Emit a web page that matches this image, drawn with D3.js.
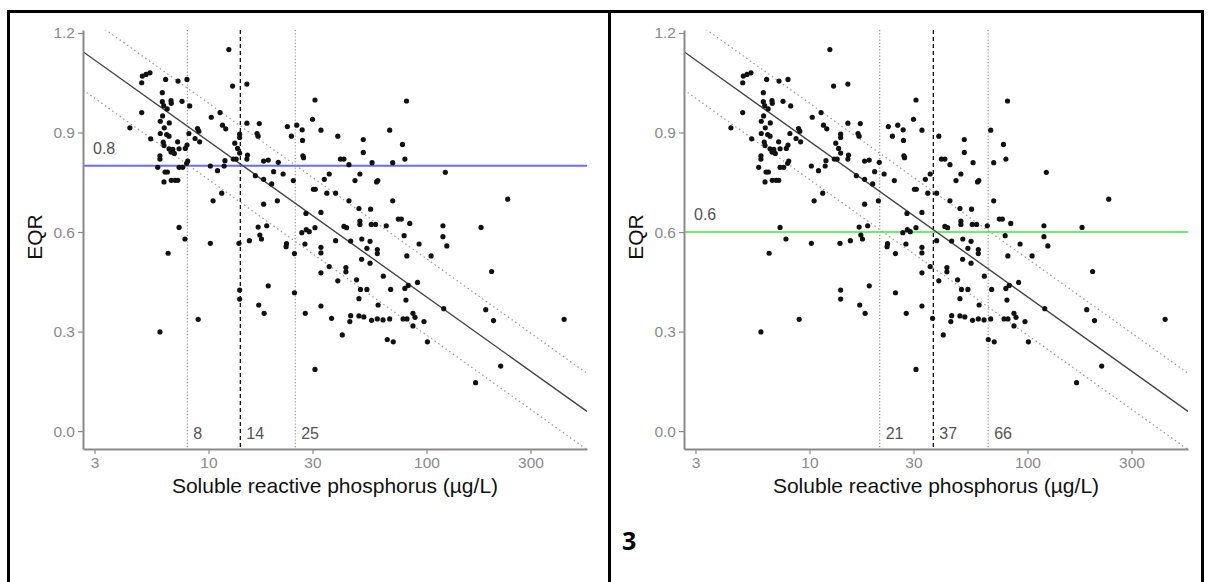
<!DOCTYPE html>
<html>
<head>
<meta charset="utf-8">
<script src="https://cdn.jsdelivr.net/npm/d3@7"></script>
<style>
    body { margin: 0; background: #fff; }
    svg { display: block; font-family: Arial, "Liberation Sans", sans-serif; }
</style>
</head>
<body>
<svg id="chart" width="1209" height="582"></svg>
<script>
// ── Data: soluble reactive phosphorus (µg/L) vs EQR, same sites in both panels ──
const srp = [
    12.4, 5.39, 5.17, 4.97, 4.94, 6.36, 7.25, 7.97, 12.9, 15.0,
    6.14, 6.73, 6.75, 7.56, 6.14, 6.23, 8.2, 6.46, 4.94, 10.3,
    11.3, 6.16, 6.01, 6.61, 11.6, 12.0, 15.0, 17.1, 4.36, 6.27,
    6.01, 6.43, 6.59, 8.91, 9.03, 8.13, 13.9, 13.9, 5.43, 8.68,
    9.11, 6.2, 7.22, 6.25, 7.97, 13.2, 6.59, 6.86, 7.33, 7.83,
    6.73, 6.97, 13.6, 15.1, 5.99, 5.99, 8.03, 11.9, 13.0, 13.4,
    15.0, 5.85, 7.33, 7.62, 10.2, 11.8, 11.0, 16.4, 6.32, 6.48,
    6.25, 6.75, 7.03, 7.23, 7.94, 13.9, 6.53, 7.33, 7.80, 10.2,
    10.5, 11.5, 5.99, 8.97, 13.9, 13.9, 13.8, 15.4, 16.7, 16.9,
    17.9, 18.8, 20.9, 17.9, 19.5, 22.0, 24.5, 20.7, 17.9, 23.0,
    25.4, 24.0, 26.9, 27.0, 27.1, 27.3, 16.9, 18.5, 17.2, 17.5,
    22.8, 22.7, 24.8, 27.7, 26.8, 28.1, 29.0, 28.0, 18.8, 24.8,
    17.0, 18.0, 27.8, 30.8, 81.0, 30.0, 32.8, 39.2, 51.3, 67.8,
    77.6, 51.3, 40.3, 41.8, 44.1, 56.3, 70.0, 79.6, 122, 19.9,
    35.8, 34.0, 49.5, 47.0, 59.0, 59.8, 30.3, 30.9, 34.9, 38.3,
    44.1, 70.0, 49.0, 55.4, 32.8, 74.3, 76.7, 83.8, 49.5, 49.5,
    55.8, 58.4, 65.4, 41.8, 43.0, 30.8, 119, 178, 79.0, 119,
    124, 44.9, 50.5, 55.1, 38.3, 59.5, 59.5, 53.3, 32.8, 32.8,
    92.5, 81.3, 105, 50.4, 55.1, 35.8, 42.7, 42.7, 32.8, 39.2,
    47.8, 63.4, 82.5, 91.0, 49.8, 53.3, 68.5, 79.6, 199, 236,
    80.5, 120, 187, 86.7, 88.6, 86.7, 78.1, 81.4, 67.8, 63.2,
    59.5, 56.0, 49.0, 51.6, 44.9, 44.5, 36.7, 32.8, 49.0, 60.0,
    41.1, 66.1, 70.4, 97.4, 101, 203, 428, 219, 168, 30.8
];
const eqr = [
    1.15, 1.08, 1.075, 1.07, 1.05, 1.06, 1.055, 1.06, 1.04, 1.046,
    1.02, 0.996, 0.988, 0.994, 0.993, 0.981, 0.98, 0.971, 0.96, 0.946,
    0.96, 0.95, 0.934, 0.929, 0.922, 0.911, 0.928, 0.927, 0.914, 0.914,
    0.897, 0.894, 0.889, 0.912, 0.904, 0.897, 0.895, 0.885, 0.881, 0.882,
    0.872, 0.871, 0.872, 0.861, 0.862, 0.868, 0.851, 0.849, 0.851, 0.852,
    0.841, 0.837, 0.852, 0.832, 0.830, 0.820, 0.814, 0.815, 0.820, 0.820,
    0.820, 0.795, 0.795, 0.795, 0.799, 0.799, 0.785, 0.770, 0.781, 0.781,
    0.751, 0.756, 0.756, 0.756, 0.807, 0.838, 0.536, 0.614, 0.579, 0.566,
    0.694, 0.717, 0.299, 0.337, 0.425, 0.398, 0.566, 0.574, 0.897, 0.889,
    0.814, 0.817, 0.810, 0.759, 0.745, 0.775, 0.755, 0.694, 0.684, 0.918,
    0.922, 0.889, 0.908, 0.876, 0.830, 0.824, 0.615, 0.619, 0.591, 0.579,
    0.565, 0.556, 0.535, 0.564, 0.598, 0.607, 0.601, 0.656, 0.438, 0.417,
    0.380, 0.355, 0.355, 0.998, 0.995, 0.940, 0.907, 0.889, 0.879, 0.907,
    0.864, 0.840, 0.820, 0.820, 0.803, 0.809, 0.809, 0.820, 0.780, 0.782,
    0.775, 0.759, 0.775, 0.755, 0.751, 0.755, 0.729, 0.729, 0.717, 0.717,
    0.694, 0.694, 0.671, 0.669, 0.659, 0.639, 0.639, 0.626, 0.633, 0.623,
    0.623, 0.623, 0.619, 0.617, 0.613, 0.613, 0.619, 0.614, 0.589, 0.586,
    0.558, 0.573, 0.579, 0.572, 0.574, 0.547, 0.535, 0.551, 0.554, 0.537,
    0.564, 0.528, 0.528, 0.518, 0.506, 0.496, 0.493, 0.480, 0.477, 0.453,
    0.456, 0.467, 0.439, 0.448, 0.427, 0.427, 0.427, 0.430, 0.481, 0.699,
    0.395, 0.369, 0.366, 0.355, 0.343, 0.317, 0.338, 0.338, 0.338, 0.335,
    0.338, 0.334, 0.347, 0.344, 0.348, 0.330, 0.340, 0.377, 0.399, 0.380,
    0.290, 0.276, 0.269, 0.330, 0.269, 0.333, 0.337, 0.196, 0.146, 0.186
];

// ── Panel settings: one entry per panel ──
const boundaries = [0.8, 0.6];
const boundaryLabels = ["0.8", "0.6"];
const boundaryColors = ["#6a6aff", "#6cf06c"];
const lowerCuts = [8, 21];
const midCuts = [14, 37];
const upperCuts = [25, 66];

const xTicks = [3, 10, 30, 100, 300];
const yTicks = [0, 0.3, 0.6, 0.9, 1.2];

// fitted EQR = a + b * log10(SRP), with ± band
const fitA = 1.3425, fitB = -0.469, band = 0.115;

const svg = d3.select("#chart");
const points = srp.map((x, i) => ({ x, y: eqr[i] }));

// ── Table borders ──
const border = svg.append("g").attr("stroke", "#000").attr("stroke-width", 3);
border.append("line").attr("x1", 7).attr("x2", 1204).attr("y1", 11.5).attr("y2", 11.5);
border.append("line").attr("x1", 8.5).attr("x2", 8.5).attr("y1", 10).attr("y2", 582);
border.append("line").attr("x1", 609.5).attr("x2", 609.5).attr("y1", 10).attr("y2", 582);
border.append("line").attr("x1", 1202.5).attr("x2", 1202.5).attr("y1", 10).attr("y2", 582);

svg.append("text")
    .attr("x", 622).attr("y", 550)
    .attr("font-size", 25).attr("font-weight", "bold")
    .attr("font-family", "'Open Sans', Arial, sans-serif")
    .text("3");

function drawPanel(i) {
    const off = i * 601;
    const left = 83 + off, right = 587 + off, top = 30, bottom = 449;

    const x = d3.scaleLog().domain([2.657, 545]).range([left, right]);
    const y = d3.scaleLinear().domain([-0.054, 1.209]).range([bottom, top]);

    const g = svg.append("g");

    g.append("clipPath").attr("id", "clip" + i)
        .append("rect")
        .attr("x", left).attr("y", top)
        .attr("width", right - left).attr("height", bottom - top);

    const plot = g.append("g").attr("clip-path", `url(#clip${i})`);

    // vertical cut lines
    [lowerCuts[i], upperCuts[i]].forEach(v => {
        plot.append("line")
            .attr("x1", x(v)).attr("x2", x(v))
            .attr("y1", top).attr("y2", bottom)
            .attr("stroke", "#8a8a8a").attr("stroke-width", 1.1)
            .attr("stroke-dasharray", "1.2,2");
    });
    plot.append("line")
        .attr("x1", x(midCuts[i])).attr("x2", x(midCuts[i]))
        .attr("y1", top).attr("y2", bottom)
        .attr("stroke", "#111").attr("stroke-width", 1.3)
        .attr("stroke-dasharray", "4,3");

    // boundary line
    plot.append("line")
        .attr("x1", left).attr("x2", right)
        .attr("y1", y(boundaries[i])).attr("y2", y(boundaries[i]))
        .attr("stroke", boundaryColors[i]).attr("stroke-width", 2);

    // fitted line and band
    const [d0, d1] = x.domain();
    const lineAt = (offset) => [[d0, fitA + offset + fitB * Math.log10(d0)], [d1, fitA + offset + fitB * Math.log10(d1)]];
    const lineGen = d3.line().x(d => x(d[0])).y(d => y(d[1]));

    [band, -band].forEach(o => {
        plot.append("path")
            .attr("d", lineGen(lineAt(o)))
            .attr("fill", "none").attr("stroke", "#9a9a9a")
            .attr("stroke-width", 1.2).attr("stroke-dasharray", "1.5,3");
    });
    plot.append("path")
        .attr("d", lineGen(lineAt(0)))
        .attr("fill", "none").attr("stroke", "#444").attr("stroke-width", 1.4);

    // points
    plot.append("g")
        .selectAll("circle")
        .data(points)
        .join("circle")
        .attr("cx", d => x(d.x))
        .attr("cy", d => y(d.y))
        .attr("r", 2.6)
        .attr("fill", "#111");

    // annotations
    g.append("text")
        .attr("x", left + 10).attr("y", y(boundaries[i]) - 12)
        .attr("font-size", 16).attr("fill", "#555")
        .text(boundaryLabels[i]);

    [lowerCuts[i], midCuts[i], upperCuts[i]].forEach(v => {
        g.append("text")
            .attr("x", x(v) + 6).attr("y", y(0) + 8)
            .attr("font-size", 16).attr("fill", "#555")
            .text(v);
    });

    // axes
    const yAxis = g.append("g")
        .attr("transform", `translate(${left},0)`)
        .call(d3.axisLeft(y).tickValues(yTicks).tickFormat(d3.format(".1f")).tickSize(5).tickSizeOuter(0));
    const xAxis = g.append("g")
        .attr("transform", `translate(0,${bottom})`)
        .call(d3.axisBottom(x).tickValues(xTicks).tickFormat(d3.format("d")).tickSize(5).tickSizeOuter(0));

    [yAxis, xAxis].forEach(a => {
        a.select(".domain").attr("stroke", "#8a8a8a").attr("stroke-width", 2);
        a.selectAll(".tick line").attr("stroke", "#8a8a8a").attr("stroke-width", 1.2);
        a.selectAll(".tick text").attr("fill", "#8a8a8a").attr("font-size", 15.5)
            .attr("font-family", "Arial, 'Liberation Sans', sans-serif");
    });

    g.append("text")
        .attr("x", (left + right) / 2).attr("y", 493)
        .attr("text-anchor", "middle")
        .attr("font-size", 21).attr("fill", "#111")
        .text("Soluble reactive phosphorus (µg/L)");

    g.append("text")
        .attr("transform", `translate(${left - 41},237) rotate(-90)`)
        .attr("text-anchor", "middle")
        .attr("font-size", 21).attr("fill", "#111")
        .text("EQR");
}

drawPanel(0);
drawPanel(1);
</script>
</body>
</html>
